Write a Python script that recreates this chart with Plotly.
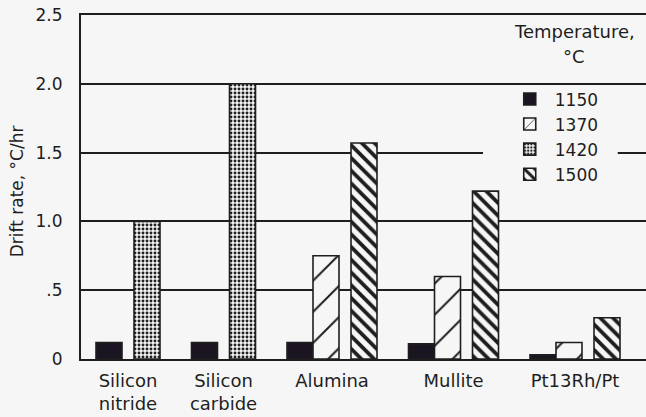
import plotly.graph_objects as go

# ---------------- data ----------------
categories = ["Silicon<br>nitride", "Silicon<br>carbide", "Alumina", "Mullite", "Pt13Rh/Pt"]
temperatures = ["1150", "1370", "1420", "1500"]
drift_1150 = [0.12, 0.12, 0.12, 0.11, 0.03]
drift_1370 = [None, None, 0.75, 0.60, 0.12]
drift_1420 = [1.00, 2.00, None, None, None]
drift_1500 = [None, None, 1.57, 1.22, 0.30]
y_tick_vals = [0, 0.5, 1.0, 1.5, 2.0, 2.5]
y_tick_text = ["0", ".5", "1.0", "1.5", "2.0", "2.5"]

series = {
    "1150": drift_1150,
    "1370": drift_1370,
    "1420": drift_1420,
    "1500": drift_1500,
}

# ---------------- styling ----------------
BG = "#f6f6f6"
INK = "#1e1e1e"
FONT = "DejaVu Sans"
PLOT_W_PX = 565           # width of the plotting area
U_PX = 112.8              # pixels per category unit
BAR_W = 26 / U_PX         # bar width
GAP = 12 / U_PX           # gap between the (1150,1370) pair and the last bar
GROUP_GAP = 31.5 / U_PX   # gap between neighbouring groups
LEFT_PAD = 15 / U_PX      # space between y axis and first bar
first_block = {"1150", "1370"}

# layout of the bars inside each group, derived from which series are present
n = len(categories)
offsets = {t: [0.0] * n for t in temperatures}
group_w = []
for j in range(n):
    present = [t for t in temperatures if series[t][j] is not None]
    has_first = any(t in first_block for t in present)
    has_second = any(t not in first_block for t in present)
    total = len(present) * BAR_W + (GAP if (has_first and has_second) else 0)
    group_w.append(total)
    cur = -total / 2
    gap_used = False
    for t in present:
        if t not in first_block and has_first and not gap_used:
            cur += GAP
            gap_used = True
        offsets[t][j] = cur
        cur += BAR_W

# groups are packed with a constant gap between them (narrow groups sit closer)
centers = [0.0]
for j in range(1, n):
    centers.append(centers[-1] + group_w[j - 1] / 2 + GROUP_GAP + group_w[j] / 2)
shifts = [centers[j] - j for j in range(n)]
mean_shift = sum(shifts) / n
shifts = [s - mean_shift for s in shifts]
for t in temperatures:
    offsets[t] = [offsets[t][j] + shifts[j] for j in range(n)]
label_pos = [j + shifts[j] for j in range(n)]
x_r0 = shifts[0] - group_w[0] / 2 - LEFT_PAD
x_r1 = x_r0 + PLOT_W_PX / U_PX

styles = {
    "1150": dict(color="#1b1522"),
    "1370": dict(color=BG, pattern=dict(shape="/", size=22, solidity=0.09,
                                       fgcolor=INK, bgcolor=BG, fillmode="replace")),
    "1420": dict(color=BG, pattern=dict(shape=".", size=4, solidity=0.42,
                                       fgcolor="#222222", bgcolor=BG, fillmode="replace")),
    "1500": dict(color=BG, pattern=dict(shape="\\", size=9, solidity=0.42,
                                       fgcolor=INK, bgcolor=BG, fillmode="replace")),
}

fig = go.Figure()
for t in temperatures:
    m = dict(styles[t])
    m["line"] = dict(color=INK, width=1.6)
    fig.add_trace(go.Bar(
        x=categories, y=series[t], name=t,
        offset=offsets[t], width=BAR_W,
        marker=m, legendgroup=t,
    ))

fig.update_layout(
    width=646, height=417,
    margin=dict(l=81, r=0, t=15, b=58),
    paper_bgcolor=BG, plot_bgcolor=BG,
    barmode="overlay",
    font=dict(family=FONT, size=18, color=INK),
    showlegend=True,
    legend=dict(
        x=0.75, y=0.807, xanchor="left", yanchor="top",
        bgcolor="rgba(0,0,0,0)", borderwidth=0,
        font=dict(family=FONT, size=17, color=INK),
        tracegroupgap=0, itemwidth=40,
    ),
    xaxis=dict(
        type="category", automargin=False,
        range=[x_r0, x_r1],
        tickmode="array", tickvals=label_pos, ticktext=categories,
        showline=True, linecolor=INK, linewidth=2, mirror=True,
        showgrid=False, ticks="", ticklabelstandoff=4,
        tickfont=dict(family=FONT, size=18, color=INK),
    ),
    yaxis=dict(
        range=[0, 2.5], automargin=False, ticklabeloverflow="allow",
        tickvals=y_tick_vals, ticktext=y_tick_text,
        showline=True, linecolor=INK, linewidth=2,
        showgrid=True, gridcolor=INK, gridwidth=1.6,
        zeroline=False, ticks="", ticklabelstandoff=13,
        tickfont=dict(family=FONT, size=17, color=INK),
    ),
    shapes=[
        # blank panel behind the legend that interrupts the 1.5 grid line
        dict(type="rect", xref="paper", yref="paper",
             x0=0.7115, x1=0.950, y0=0.503, y1=0.785,
             fillcolor=BG, line=dict(width=0), layer="above"),
    ],
    annotations=[
        dict(text="Drift rate, °C/hr", xref="paper", yref="paper",
             x=-0.113, y=0.488, xanchor="center", yanchor="middle",
             textangle=-90, showarrow=False,
             font=dict(family=FONT, size=17, color=INK)),
        dict(text="Temperature,", xref="paper", yref="paper",
             x=0.873, y=0.951, xanchor="center", yanchor="middle",
             showarrow=False, font=dict(family=FONT, size=18, color=INK)),
        dict(text="°C", xref="paper", yref="paper",
             x=0.873, y=0.878, xanchor="center", yanchor="middle",
             showarrow=False, font=dict(family=FONT, size=18, color=INK)),
    ],
)

fig.write_html("out.html", config={"displayModeBar": False},
               post_script="document.body.style.margin = '0px';")
